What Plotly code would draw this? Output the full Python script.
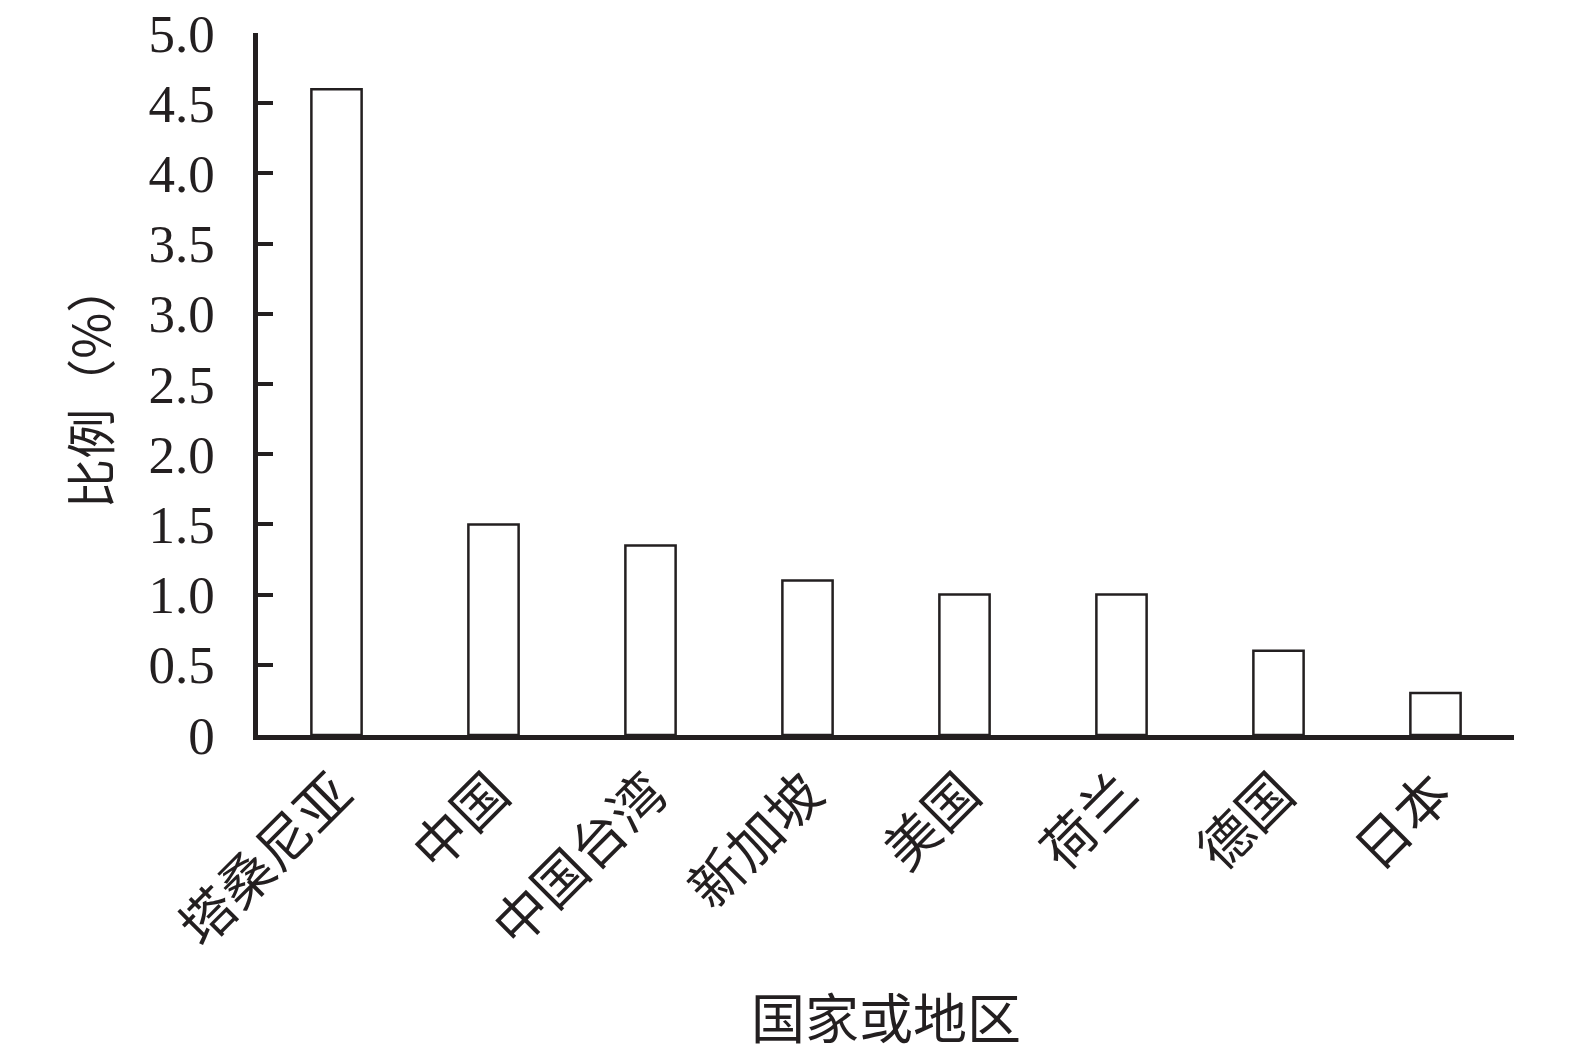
import plotly.graph_objects as go

categories = ["塔桑尼亚", "中国", "中国台湾", "新加坡", "美国", "荷兰", "德国", "日本"]
values = [4.6, 1.5, 1.35, 1.1, 1.0, 1.0, 0.6, 0.3]
ytick_vals = [0, 0.5, 1.0, 1.5, 2.0, 2.5, 3.0, 3.5, 4.0, 4.5, 5.0]
ytick_text = ["0", "0.5", "1.0", "1.5", "2.0", "2.5", "3.0", "3.5", "4.0", "4.5", "5.0"]

INK = "#231f20"
SERIF = "Liberation Serif, DejaVu Serif, serif"
CJK = "Noto Sans CJK SC, sans-serif"

fig = go.Figure()
fig.add_trace(go.Bar(
    x=categories, y=values, width=0.32,
    marker=dict(color="white", line=dict(color=INK, width=2.5)),
    showlegend=False,
))

fig.update_layout(
    width=1575, height=1055,
    margin=dict(l=258, r=61, t=33, b=320, autoexpand=False),
    paper_bgcolor="white", plot_bgcolor="white",
    xaxis=dict(
        range=[-0.5, 7.5], showline=True, linewidth=5, linecolor=INK,
        ticks="", tickangle=-45, showgrid=False, zeroline=False,
        tickfont=dict(family=CJK, size=54, color=INK), automargin=False,
    ),
    yaxis=dict(
        range=[0, 5], showline=True, linewidth=4.5, linecolor=INK,
        tickvals=ytick_vals, ticktext=ytick_text,
        ticks="inside", ticklen=15, tickwidth=4, tickcolor=INK,
        showgrid=False, zeroline=False, automargin=False,
        tickfont=dict(family=SERIF, size=53, color=INK),
        ticklabelstandoff=28, ticklabeloverflow="allow",
    ),
    annotations=[
        dict(text="国家或地区", xref="paper", yref="paper", x=0.5, y=-0.400,
             xanchor="center", yanchor="middle", showarrow=False,
             font=dict(family=CJK, size=54, color=INK)),
        dict(text="比例（%）", xref="paper", yref="paper", x=-0.135, y=0.498,
             xanchor="center", yanchor="middle", showarrow=False, textangle=-90,
             font=dict(family=CJK, size=50, color=INK)),
    ],
)

fig.write_html(
    "out.html",
    config={"displayModeBar": False},
    post_script="document.body.style.margin='0';document.body.style.overflow='hidden';",
)
